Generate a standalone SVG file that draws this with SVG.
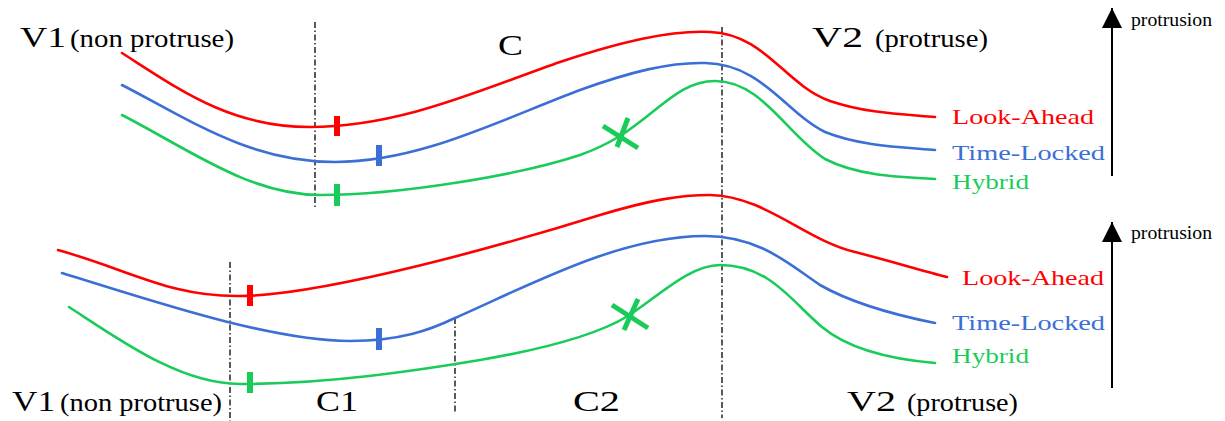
<svg xmlns="http://www.w3.org/2000/svg" width="1225" height="421" viewBox="0 0 1225 421">
<style>
.t{font-family:"Liberation Serif","Times New Roman",serif;fill:#000}
.big{font-size:29px}
.par{font-size:25px}
.lab{font-size:21px}
.pr{font-size:19px}
.c{fill:none;stroke-width:2.6;stroke-linecap:round}
.r{stroke:#ff0000}
.b{stroke:#3b6fd6}
.g{stroke:#19cc5a}
.dash{fill:none;stroke:#000;stroke-width:1.3;stroke-dasharray:6,2.5,1.5,2.5}
.tick{stroke-width:6;fill:none}
.x{stroke:#19cc5a;stroke-width:5;fill:none}
.red{fill:#ff0000}
.blue{fill:#3b6fd6}
.green{fill:#19cc5a}
</style>
<defs>
<marker id="ah" viewBox="0 0 20 20" refX="20" refY="10" markerWidth="20" markerHeight="20" markerUnits="userSpaceOnUse" orient="auto">
<path d="M0,0 L20,10 L0,20 Z" fill="#000"/>
</marker>
</defs>

<g id="guides">
<line class="dash" x1="315" y1="22" x2="315" y2="207"/>
<line class="dash" x1="722" y1="27" x2="722" y2="418"/>
<line class="dash" x1="230" y1="262" x2="230" y2="421"/>
<line class="dash" x1="455" y1="318" x2="455" y2="414"/>
</g>

<g id="connectors">
<path class="c r" d="M122,53 C180,90 230,127 310,127 C400,127 480,90 560,62 C620,42 670,30 710,32 C765,34 785,85 830,101 C865,113 900,114 935,117"/>
<path class="c b" d="M122,85 C190,120 250,162 335,162 C420,162 500,120 580,90 C630,72 670,62 705,63 C762,64 785,112 825,132 C860,146 900,147 935,150"/>
<path class="c g" d="M122,115 C190,150 250,195 320,195 C400,195 520,175 580,155 C600,148 610,142 620,136 C660,110 680,81 715,81 C762,81 787,135 825,159 C858,176 900,177 935,179"/>

<path class="c r" d="M58,250 C130,270 170,297 240,296 C330,295 520,240 600,215 C650,200 680,195 710,195 C765,196 805,240 855,252 C890,261 920,270 947,277"/>
<path class="c b" d="M62,273 C150,300 270,341 350,341 C400,341 430,330 455,318 C530,285 620,236 705,236 C760,236 790,265 820,285 C855,305 900,316 935,323"/>
<path class="c g" d="M69,307 C120,340 180,384 240,384 C330,384 420,370 480,360 C550,348 600,333 628,316 C660,295 690,265 720,265 C770,265 792,302 822,327 C852,352 900,360 935,363"/>

<line x1="1112" y1="176" x2="1112" y2="8" stroke="#000" stroke-width="2" marker-end="url(#ah)"/>
<line x1="1112" y1="388" x2="1112" y2="222" stroke="#000" stroke-width="2" marker-end="url(#ah)"/>
</g>

<g id="markers-top">
<line class="tick r" x1="337" y1="116" x2="337" y2="136"/>
<line class="tick b" x1="379" y1="145" x2="379" y2="166"/>
<line class="tick g" x1="337" y1="184" x2="337" y2="206"/>
<line class="x" x1="603" y1="126" x2="638" y2="148"/>
<line class="x" x1="628" y1="118" x2="617" y2="147"/>
</g>

<g id="markers-bottom">
<line class="tick r" x1="250" y1="285" x2="250" y2="306"/>
<line class="tick b" x1="379" y1="328" x2="379" y2="350"/>
<line class="tick g" x1="250" y1="372" x2="250" y2="393"/>
<line class="x" x1="612" y1="305" x2="648" y2="328"/>
<line class="x" x1="638" y1="299" x2="624" y2="330"/>
</g>

<g id="labels-top">
<text class="t big" x="20" y="47" textLength="46" lengthAdjust="spacingAndGlyphs">V1</text>
<text class="t par" x="70" y="47" textLength="164" lengthAdjust="spacingAndGlyphs">(non protruse)</text>
<text class="t big" x="498" y="55" textLength="25" lengthAdjust="spacingAndGlyphs">C</text>
<text class="t big" x="812" y="47" textLength="51" lengthAdjust="spacingAndGlyphs">V2</text>
<text class="t par" x="875" y="47" textLength="113" lengthAdjust="spacingAndGlyphs">(protruse)</text>
<text class="t lab red" x="952" y="124" textLength="142" lengthAdjust="spacingAndGlyphs">Look-Ahead</text>
<text class="t lab blue" x="952" y="160" textLength="153" lengthAdjust="spacingAndGlyphs">Time-Locked</text>
<text class="t lab green" x="952" y="189" textLength="77" lengthAdjust="spacingAndGlyphs">Hybrid</text>
<text class="t pr" x="1131" y="26" textLength="81" lengthAdjust="spacingAndGlyphs">protrusion</text>
</g>

<g id="labels-bottom">
<text class="t big" x="12" y="411" textLength="43" lengthAdjust="spacingAndGlyphs">V1</text>
<text class="t par" x="60" y="411" textLength="162" lengthAdjust="spacingAndGlyphs">(non protruse)</text>
<text class="t big" x="316" y="411" textLength="42" lengthAdjust="spacingAndGlyphs">C1</text>
<text class="t big" x="573" y="411" textLength="47" lengthAdjust="spacingAndGlyphs">C2</text>
<text class="t big" x="847" y="411" textLength="49" lengthAdjust="spacingAndGlyphs">V2</text>
<text class="t par" x="907" y="411" textLength="111" lengthAdjust="spacingAndGlyphs">(protruse)</text>
<text class="t lab red" x="962" y="285" textLength="142" lengthAdjust="spacingAndGlyphs">Look-Ahead</text>
<text class="t lab blue" x="952" y="330" textLength="153" lengthAdjust="spacingAndGlyphs">Time-Locked</text>
<text class="t lab green" x="952" y="363" textLength="77" lengthAdjust="spacingAndGlyphs">Hybrid</text>
<text class="t pr" x="1131" y="239" textLength="81" lengthAdjust="spacingAndGlyphs">protrusion</text>
</g>
</svg>
